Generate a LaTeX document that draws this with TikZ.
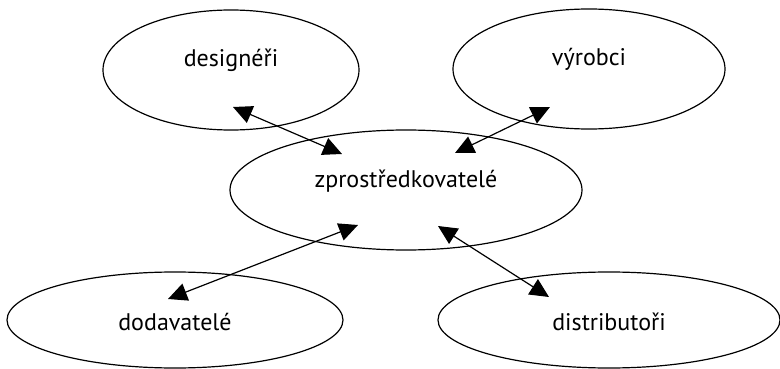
\documentclass[tikz,border=0pt]{standalone}
\usepackage{fontspec}
\setmainfont{PT Sans}
\usetikzlibrary{shapes.geometric,arrows.meta,calc}
\tikzset{
    party/.style ={
        shape=ellipse,
        draw=black,
        line width=1.2pt,
        inner sep=0pt,
        font=\fontsize{24}{28}\selectfont
    },
    upper/.style ={
        party,
        minimum height=120pt,
        text height=15pt,
        text depth=21pt
    },
    lower/.style ={
        party,
        minimum height=96pt,
        text height=20pt,
        text depth=0pt
    },
    link/.style ={
        {Triangle[length=19pt,width=18pt]}-{Triangle[length=19pt,width=18pt]},
        line width=1.2pt
    }
}

\begin{document}
\begin{tikzpicture}[x=1pt,y=-1pt]
    \useasboundingbox (0,0) rectangle (780,369);
    \node[upper, minimum width=256pt] (des) at(231,70) {designéři};
    \node[upper, minimum width=272pt] (vyr) at(589,69) {výrobci};
    \node[upper, minimum width=352pt] (zpr) at(406,190) {zprostředkovatelé};
    \node[lower, minimum width=336pt] (dod) at(175,320) {dodavatelé};
    \node[lower, minimum width=342pt] (dis) at(609,320) {distributoři};
    % arrows between the middle and each party
    \draw[link] ($(des)+(2,37)$) -- ($(zpr)+(-64,-36)$);
    \draw[link] ($(vyr)+(-39,38)$) -- ($(zpr)+(49,-37)$);
    \draw[link] ($(dod)+(-7,-21)$) -- ($(zpr)+(-48,35)$);
    \draw[link] ($(dis)+(-60,-23)$) -- ($(zpr)+(32,36)$);
\end{tikzpicture}
\end{document}
